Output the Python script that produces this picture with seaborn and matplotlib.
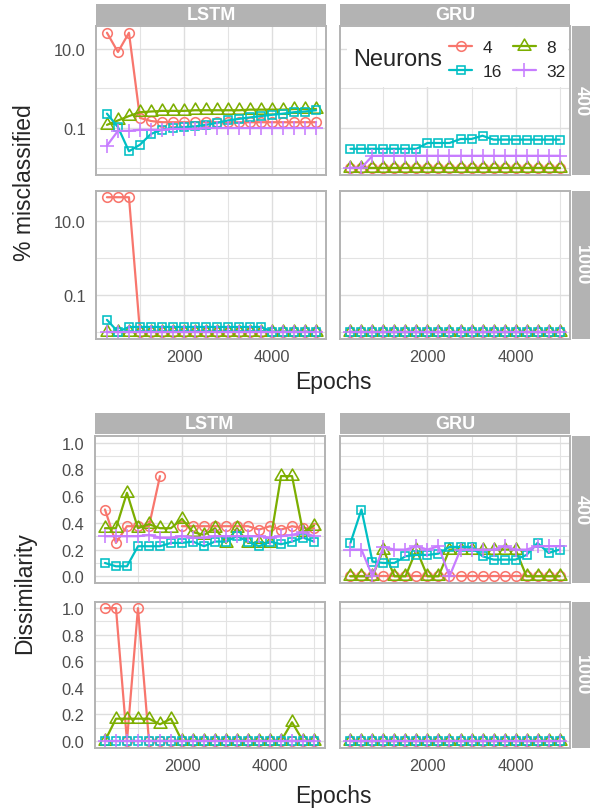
import numpy as np
import pandas as pd
import seaborn as sns
import matplotlib
matplotlib.use('Agg')
import matplotlib.pyplot as plt
from matplotlib.markers import MarkerStyle
from matplotlib.path import Path
from matplotlib.lines import Line2D
from matplotlib.patches import Rectangle
from matplotlib.transforms import Affine2D

nan = np.nan

epochs = [250, 500, 750, 1000, 1250, 1500, 1750, 2000, 2250, 2500,
          2750, 3000, 3250, 3500, 3750, 4000, 4250, 4500, 4750, 5000]
neurons = ['4', '8', '16', '32']
cells = ['LSTM', 'GRU']
lengths = ['400', '1000']
colors = ['#F8766D', '#7CAE00', '#00BFC4', '#C77CFF']

# % misclassified (log axis, runs with no errors sit at 0.01)
mis_lstm_400_n4 = [25, 8.2, 25, 0.18, 0.15, 0.14, 0.14, 0.14, 0.14, 0.14, 0.14, 0.14, 0.14, 0.14, 0.14, 0.14, 0.14, 0.14, 0.14, 0.14]
mis_lstm_400_n8 = [0.12, 0.155, 0.2, 0.25, 0.26, 0.27, 0.27, 0.27, 0.28, 0.28, 0.28, 0.28, 0.28, 0.29, 0.29, 0.29, 0.29, 0.3, 0.3, 0.3]
mis_lstm_400_n16 = [0.23, 0.105, 0.026, 0.038, 0.071, 0.091, 0.1, 0.105, 0.11, 0.12, 0.135, 0.155, 0.17, 0.185, 0.2, 0.215, 0.23, 0.25, 0.26, 0.28]
mis_lstm_400_n32 = [0.036, 0.085, 0.085, 0.09, 0.09, 0.09, 0.095, 0.095, 0.095, 0.1, 0.1, 0.1, 0.1, 0.1, 0.1, 0.1, 0.1, 0.1, 0.1, 0.1]
mis_gru_400_n4 = [0.01, 0.01, 0.01, 0.01, 0.01, 0.01, 0.01, 0.01, 0.01, 0.01, 0.01, 0.01, 0.01, 0.01, 0.01, 0.01, 0.01, 0.01, 0.01, 0.01]
mis_gru_400_n8 = [0.01, 0.01, 0.01, 0.01, 0.01, 0.01, 0.01, 0.01, 0.01, 0.01, 0.01, 0.01, 0.01, 0.01, 0.01, 0.01, 0.01, 0.01, 0.01, 0.01]
mis_gru_400_n16 = [0.03, 0.03, 0.03, 0.03, 0.03, 0.03, 0.03, 0.042, 0.042, 0.042, 0.053, 0.053, 0.064, 0.051, 0.051, 0.051, 0.051, 0.051, 0.051, 0.051]
mis_gru_400_n32 = [0.01, 0.01, 0.02, 0.02, 0.02, 0.02, 0.02, 0.02, 0.02, 0.02, 0.02, 0.02, 0.02, 0.02, 0.02, 0.02, 0.02, 0.02, 0.02, 0.02]
mis_lstm_1000_n4 = [43, 43, 43, 0.01, 0.01, 0.01, 0.01, 0.01, 0.01, 0.01, 0.01, 0.01, 0.01, 0.01, 0.01, 0.01, 0.01, 0.01, 0.01, 0.01]
mis_lstm_1000_n8 = [0.01, 0.01, 0.01, 0.01, 0.01, 0.01, 0.01, 0.01, 0.01, 0.01, 0.01, 0.01, 0.01, 0.01, 0.01, 0.01, 0.01, 0.01, 0.01, 0.01]
mis_lstm_1000_n16 = [0.021, 0.01, 0.0135, 0.0135, 0.0135, 0.0135, 0.0135, 0.0135, 0.0135, 0.0135, 0.0135, 0.0135, 0.0135, 0.0135, 0.0135, 0.01, 0.01, 0.01, 0.01, 0.01]
mis_lstm_1000_n32 = [0.01, 0.01, 0.01, 0.01, 0.01, 0.01, 0.01, 0.01, 0.01, 0.01, 0.01, 0.01, 0.01, 0.01, 0.01, 0.01, 0.01, 0.01, 0.01, 0.01]
mis_gru_1000_n4 = [0.01, 0.01, 0.01, 0.01, 0.01, 0.01, 0.01, 0.01, 0.01, 0.01, 0.01, 0.01, 0.01, 0.01, 0.01, 0.01, 0.01, 0.01, 0.01, 0.01]
mis_gru_1000_n8 = [0.01, 0.01, 0.01, 0.01, 0.01, 0.01, 0.01, 0.01, 0.01, 0.01, 0.01, 0.01, 0.01, 0.01, 0.01, 0.01, 0.01, 0.01, 0.01, 0.01]
mis_gru_1000_n16 = [0.01, 0.01, 0.01, 0.01, 0.01, 0.01, 0.01, 0.01, 0.01, 0.01, 0.01, 0.01, 0.01, 0.01, 0.01, 0.01, 0.01, 0.01, 0.01, 0.01]
mis_gru_1000_n32 = [0.01, 0.01, 0.01, 0.01, 0.01, 0.01, 0.01, 0.01, 0.01, 0.01, 0.01, 0.01, 0.01, 0.01, 0.01, 0.01, 0.01, 0.01, 0.01, 0.01]

# Dissimilarity
dis_lstm_400_n4 = [0.5, 0.25, 0.375, 0.375, 0.375, 0.75, nan, 0.375, 0.375, 0.375, 0.375, 0.375, 0.375, 0.375, 0.35, 0.375, 0.35, 0.375, 0.36, 0.36]
dis_lstm_400_n8 = [0.36, 0.36, 0.625, 0.36, 0.39, 0.36, 0.36, 0.43, 0.33, 0.31, 0.36, 0.25, 0.36, 0.25, 0.25, 0.25, 0.75, 0.75, 0.33, 0.38]
dis_lstm_400_n16 = [0.1, 0.075, 0.075, 0.225, 0.225, 0.225, 0.25, 0.25, 0.26, 0.225, 0.26, 0.26, 0.3, 0.26, 0.225, 0.26, 0.24, 0.26, 0.29, 0.26]
dis_lstm_400_n32 = [0.3, 0.3, 0.3, 0.3, 0.31, 0.29, 0.29, 0.3, 0.29, 0.29, 0.3, 0.3, 0.3, 0.3, 0.3, 0.29, 0.3, 0.31, 0.33, 0.3]
dis_gru_400_n4 = [0, 0, 0, 0, 0, 0, 0, 0, 0, 0, 0, 0, 0, 0, 0, 0, 0, 0, 0, 0]
dis_gru_400_n8 = [0, 0, 0, 0.2, 0, 0, 0.2, 0, 0, 0.2, 0.2, 0.2, 0.2, 0.2, 0.2, 0.2, 0, 0, 0, 0]
dis_gru_400_n16 = [0.25, 0.5, 0.11, 0.1, 0.1, 0.15, 0.16, 0.16, 0.17, 0.22, 0.22, 0.22, 0.15, 0.125, 0.125, 0.125, 0.16, 0.25, 0.175, 0.2]
dis_gru_400_n32 = [0.2, 0.2, 0, 0.22, 0.2, 0.2, 0.225, 0.2, 0.225, 0, 0.2, 0.2, 0.2, 0.2, 0.225, 0.2, 0.2, 0.225, 0.225, 0.225]
dis_lstm_1000_n4 = [1, 1, 0, 1, 0, 0, 0, 0, 0, 0, 0, 0, 0, 0, 0, 0, 0, 0, 0, 0]
dis_lstm_1000_n8 = [0, 0.167, 0.167, 0.167, 0.167, 0.125, 0.167, 0, 0, 0, 0, 0, 0, 0, 0, 0, 0, 0.14, 0, 0]
dis_lstm_1000_n16 = [0, 0, 0, 0, 0, 0, 0, 0, 0, 0, 0, 0, 0, 0, 0, 0, 0, 0, 0, 0]
dis_lstm_1000_n32 = [0, 0, 0, 0, 0, 0, 0, 0, 0, 0, 0, 0, 0, 0, 0, 0, 0, 0, 0, 0]
dis_gru_1000_n4 = [0, 0, 0, 0, 0, 0, 0, 0, 0, 0, 0, 0, 0, 0, 0, 0, 0, 0, 0, 0]
dis_gru_1000_n8 = [0, 0, 0, 0, 0, 0, 0, 0, 0, 0, 0, 0, 0, 0, 0, 0, 0, 0, 0, 0]
dis_gru_1000_n16 = [0, 0, 0, 0, 0, 0, 0, 0, 0, 0, 0, 0, 0, 0, 0, 0, 0, 0, 0, 0]
dis_gru_1000_n32 = [0, 0, 0, 0, 0, 0, 0, 0, 0, 0, 0, 0, 0, 0, 0, 0, 0, 0, 0, 0]

mis_panels = {
    ('LSTM', '400'): [mis_lstm_400_n4, mis_lstm_400_n8, mis_lstm_400_n16, mis_lstm_400_n32],
    ('GRU', '400'): [mis_gru_400_n4, mis_gru_400_n8, mis_gru_400_n16, mis_gru_400_n32],
    ('LSTM', '1000'): [mis_lstm_1000_n4, mis_lstm_1000_n8, mis_lstm_1000_n16, mis_lstm_1000_n32],
    ('GRU', '1000'): [mis_gru_1000_n4, mis_gru_1000_n8, mis_gru_1000_n16, mis_gru_1000_n32],
}
dis_panels = {
    ('LSTM', '400'): [dis_lstm_400_n4, dis_lstm_400_n8, dis_lstm_400_n16, dis_lstm_400_n32],
    ('GRU', '400'): [dis_gru_400_n4, dis_gru_400_n8, dis_gru_400_n16, dis_gru_400_n32],
    ('LSTM', '1000'): [dis_lstm_1000_n4, dis_lstm_1000_n8, dis_lstm_1000_n16, dis_lstm_1000_n32],
    ('GRU', '1000'): [dis_gru_1000_n4, dis_gru_1000_n8, dis_gru_1000_n16, dis_gru_1000_n32],
}


def long_frame(panels):
    rows = []
    for (cell, length), series in panels.items():
        for n, vals in zip(neurons, series):
            seg = 0
            for e, v in zip(epochs, vals):
                if np.isnan(v):
                    seg += 1  # break the line at a missing value
                    continue
                rows.append(dict(Cell=cell, Length=length, Neurons=n,
                                 Epochs=e, value=v, seg=seg))
    return pd.DataFrame(rows)


mis_df = long_frame(mis_panels)
dis_df = long_frame(dis_panels)

sns.set_theme(style='white')
plt.rcParams['font.family'] = ['Liberation Sans', 'DejaVu Sans']

palette = dict(zip(neurons, colors))
# ggplot-like open shapes, sized relative to the circle
tri_path = Path([(0, 1.555), (-1.3468, -0.7776), (1.3468, -0.7776), (0, 1.555)],
                [Path.MOVETO, Path.LINETO, Path.LINETO, Path.CLOSEPOLY])
markers = {
    '4': MarkerStyle('o', fillstyle='none'),
    '8': MarkerStyle(tri_path, fillstyle='none', transform=Affine2D().scale(1.555)),
    '16': MarkerStyle('s', fillstyle='none', transform=Affine2D().scale(0.886)),
    '32': MarkerStyle('+', fillstyle='none', transform=Affine2D().scale(1.414)),
}
MS = 6.9
MEW = 1.15
LW = 1.6
GREY = '#B3B3B3'

W, H = 592, 812
fig = plt.figure(figsize=(W / 100, H / 100), dpi=100)


def add_box(l, t, r, b):
    return fig.add_axes([l / W, 1 - b / H, (r - l) / W, (b - t) / H])


def strip(l, t, r, b, label, rot=0):
    s = add_box(l, t, r, b)
    s.set_facecolor(GREY)
    s.set_xticks([])
    s.set_yticks([])
    for sp in s.spines.values():
        sp.set_visible(False)
    s.text(0.5, 0.5, label, transform=s.transAxes, ha='center', va='center',
           color='white', fontsize=13, fontweight='bold', rotation=rot)


def draw_chart(df, cols, rows, strip_y, log, ylabel, ylabel_y, xlabel_y):
    axes = {}
    for ri, length in enumerate(lengths):
        t, b = rows[length]
        row_vals = df.loc[df['Length'] == length, 'value']
        for ci, cell in enumerate(cells):
            l, r = cols[cell]
            ax = add_box(l, t, r, b)
            axes[(cell, length)] = ax
            sub = df[(df['Cell'] == cell) & (df['Length'] == length)]
            sns.lineplot(data=sub, x='Epochs', y='value', hue='Neurons', style='Neurons',
                         hue_order=neurons, style_order=neurons, palette=palette,
                         markers=markers, dashes=False, units='seg', estimator=None,
                         legend=False, ax=ax, lw=LW, markersize=MS, mew=MEW,
                         mfc='none', fillstyle='none', markeredgecolor=None)
            ax.set_xlabel('')
            ax.set_ylabel('')
            ax.set_xlim(12.5, 5237.5)
            ax.set_xticks([2000, 4000])
            ax.set_xticks([1000, 3000, 5000], minor=True)
            if log:
                # y range is free per row, shared across the two cells
                ax.set_yscale('log')
                lo = np.log10(row_vals.min())
                hi = np.log10(row_vals.max())
                pad = (hi - lo) * 0.05
                ax.set_ylim(10 ** (lo - pad), 10 ** (hi + pad))
                ax.set_yticks([0.1, 10])
                ax.set_yticklabels(['0.1', '10.0'])
                ax.set_yticks([0.01, 1], minor=True)
                ax.set_yticklabels([], minor=True)
            else:
                ax.set_ylim(-0.05, 1.05)
                ax.set_yticks([0, 0.2, 0.4, 0.6, 0.8, 1.0])
                ax.set_yticklabels(['0.0', '0.2', '0.4', '0.6', '0.8', '1.0'])
                ax.set_yticks([0.1, 0.3, 0.5, 0.7, 0.9], minor=True)
            ax.set_axisbelow(True)
            ax.grid(True, which='major', color='#DEDEDE', lw=1.0)
            ax.grid(True, which='minor', color='#E3E3E3', lw=0.8)
            for sp in ax.spines.values():
                sp.set_color(GREY)
                sp.set_linewidth(1.4)
            ax.tick_params(which='major', length=4, width=1.0, color=GREY,
                           labelcolor='#4D4D4D', labelsize=11.8, pad=3.6)
            ax.tick_params(which='minor', length=0)
            if ci > 0:
                ax.tick_params(axis='y', which='both', length=0, labelleft=False)
            if ri == 0:
                ax.tick_params(axis='x', which='both', length=0, labelbottom=False)
            if ri == 0:
                strip(l, strip_y[0], r, strip_y[1], cell)
        strip(572, t, 590, b, length, rot=-90)
    fig.text(333 / W, 1 - xlabel_y / H, 'Epochs', ha='center', va='center', fontsize=16.5)
    fig.text(25 / W, 1 - ylabel_y / H, ylabel, ha='center', va='center',
             rotation=90, fontsize=16.5)
    return axes


top_axes = draw_chart(mis_df,
                      {'LSTM': (96.5, 326.5), 'GRU': (340, 570)},
                      {'400': (27, 175.5), '1000': (191.5, 339.5)},
                      (4.5, 25.5), True, '% misclassified', 183, 382)
bot_axes = draw_chart(dis_df,
                      {'LSTM': (94.5, 324.5), 'GRU': (340, 570)},
                      {'400': (437, 584), '1000': (602.5, 748.5)},
                      (414, 435), False, 'Dissimilarity', 593, 797)

# legend inside the GRU / 400 panel of the upper chart
lax = top_axes[('GRU', '400')]
lax.add_patch(Rectangle((0.03, 0.589), 0.961, 0.404, transform=lax.transAxes,
                        facecolor='white', edgecolor='none', zorder=1.5))
handles = {n: Line2D([], [], color=palette[n], marker=markers[n], markersize=MS,
                     mfc='none', mew=MEW, lw=LW) for n in neurons}
order = ['4', '16', '8', '32']
lax.legend([handles[n] for n in order], order, ncol=2, loc='upper left',
           bbox_to_anchor=(449 / W, 1 - 41 / H), bbox_transform=fig.transFigure,
           frameon=False, fontsize=12.5, handlelength=1.35, handletextpad=0.6,
           columnspacing=0.6, labelspacing=0.5, borderpad=0, borderaxespad=0)
fig.text(353 / W, 1 - 60 / H, 'Neurons', ha='left', va='center', fontsize=17)

fig.savefig('out.png', dpi=100)
